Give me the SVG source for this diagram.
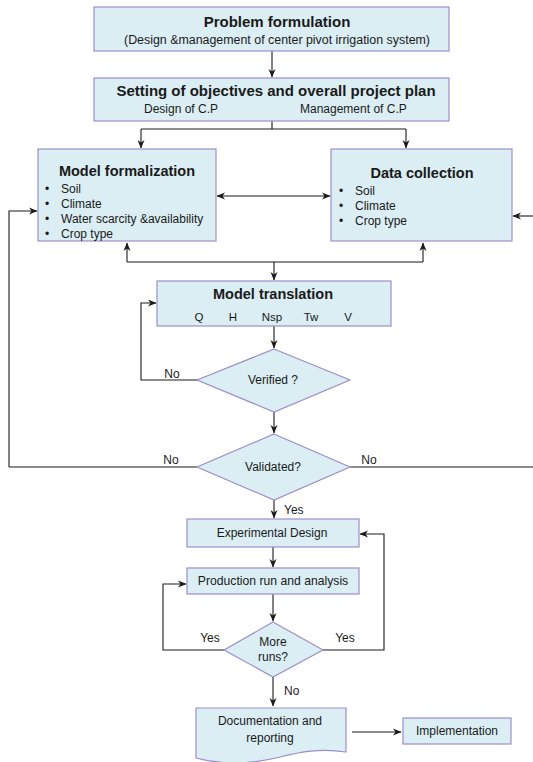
<svg xmlns="http://www.w3.org/2000/svg" width="533" height="762" viewBox="0 0 533 762">
<defs>
<marker id="ah" markerWidth="9" markerHeight="8" refX="8" refY="4" orient="auto" markerUnits="userSpaceOnUse">
<path d="M0,0.5 L8.5,4 L0,7.5 L2.5,4 Z" fill="#1a1a1a"/>
</marker>
<marker id="ahs" markerWidth="9" markerHeight="8" refX="0.5" refY="4" orient="auto" markerUnits="userSpaceOnUse">
<path d="M8.5,0.5 L0,4 L8.5,7.5 L6,4 Z" fill="#1a1a1a"/>
</marker>
<style>
.box{fill:#dbeef4;stroke:#9d8ec6;stroke-width:1.2}
.ln{fill:none;stroke:#1a1a1a;stroke-width:1.1}
.t{font-family:"Liberation Sans",Arial,sans-serif;fill:#1a1a1a}
.b{font-weight:bold}
.c{text-anchor:middle}
</style>
</defs>
<rect width="533" height="762" fill="#ffffff"/>

<g id="connectors">
<path class="ln" d="M272,51 V77" marker-end="url(#ah)"/>
<path class="ln" d="M272,121 V129 M141,129 H406"/>
<path class="ln" d="M141,129 V148" marker-end="url(#ah)"/>
<path class="ln" d="M406,129 V148" marker-end="url(#ah)"/>
<path class="ln" d="M217,196 H330" marker-start="url(#ahs)" marker-end="url(#ah)"/>
<path class="ln" d="M127,262 H423"/>
<path class="ln" d="M127,262 V243" marker-end="url(#ah)"/>
<path class="ln" d="M423,262 V243" marker-end="url(#ah)"/>
<path class="ln" d="M274,262 V280" marker-end="url(#ah)"/>
<path class="ln" d="M9,467 V211 H37" marker-end="url(#ah)"/>
<path class="ln" d="M533,216 H513" marker-end="url(#ah)"/>
<path class="ln" d="M197,380 H141 V303 H156" marker-end="url(#ah)"/>
<path class="ln" d="M274,326 V348" marker-end="url(#ah)"/>
<path class="ln" d="M274,412 V433" marker-end="url(#ah)"/>
<path class="ln" d="M197,467 H9"/>
<path class="ln" d="M350,467 H533"/>
<path class="ln" d="M274,500 V518" marker-end="url(#ah)"/>
<path class="ln" d="M273,547 V567" marker-end="url(#ah)"/>
<path class="ln" d="M273,594 V621" marker-end="url(#ah)"/>
<path class="ln" d="M224,650 H163 V584 H186" marker-end="url(#ah)"/>
<path class="ln" d="M323,650 H384 V534 H360" marker-end="url(#ah)"/>
<path class="ln" d="M273,677 V706" marker-end="url(#ah)"/>
<path class="ln" d="M352,732 H401" marker-end="url(#ah)"/>
<text class="t c" x="172" y="378" font-size="12">No</text>
<text class="t c" x="171" y="464" font-size="12">No</text>
<text class="t c" x="369" y="464" font-size="12">No</text>
<text class="t" x="284" y="514" font-size="12">Yes</text>
<text class="t c" x="210" y="642" font-size="12">Yes</text>
<text class="t c" x="345" y="642" font-size="12">Yes</text>
<text class="t" x="284" y="695" font-size="12">No</text>
</g>

<g id="problem">
<rect class="box" x="94" y="7" width="355" height="44"/>
<text class="t b c" x="277" y="27" font-size="15">Problem formulation</text>
<text class="t c" x="277" y="44" font-size="12" textLength="306" lengthAdjust="spacingAndGlyphs">(Design &amp;management of center pivot irrigation system)</text>
</g>

<g id="objectives">
<rect class="box" x="94" y="78" width="355" height="43"/>
<text class="t b c" x="276" y="96" font-size="15">Setting of objectives and overall project plan</text>
<text class="t" x="144" y="113" font-size="12">Design of C.P</text>
<text class="t" x="300" y="113" font-size="12">Management of C.P</text>
</g>

<g id="formalization">
<rect class="box" x="38" y="149" width="178" height="92"/>
<text class="t b c" x="127" y="176" font-size="14.5">Model formalization</text>
<g class="t" font-size="12">
<text x="45" y="193">•</text><text x="61" y="193">Soil</text>
<text x="45" y="208">•</text><text x="61" y="208">Climate</text>
<text x="45" y="223">•</text><text x="61" y="223">Water scarcity &amp;availability</text>
<text x="45" y="238">•</text><text x="61" y="238">Crop type</text>
</g>
</g>

<g id="datacollection">
<rect class="box" x="331" y="149" width="181" height="92"/>
<text class="t b c" x="422" y="178" font-size="14.5">Data collection</text>
<g class="t" font-size="12">
<text x="339" y="195">•</text><text x="355" y="195">Soil</text>
<text x="339" y="210">•</text><text x="355" y="210">Climate</text>
<text x="339" y="225">•</text><text x="355" y="225">Crop type</text>
</g>
</g>

<g id="translation">
<rect class="box" x="157" y="281" width="234" height="45"/>
<text class="t b c" x="273" y="299" font-size="14.5">Model translation</text>
<g class="t c" font-size="11.5">
<text x="199" y="321">Q</text>
<text x="233" y="321">H</text>
<text x="272" y="321">Nsp</text>
<text x="311" y="321">Tw</text>
<text x="348" y="321">V</text>
</g>
</g>

<g id="verified">
<polygon class="box" points="274,349 350,380 274,412 197,380"/>
<text class="t c" x="273" y="384" font-size="12">Verified ?</text>
</g>

<g id="validated">
<polygon class="box" points="274,434 350,467 274,500 197,467"/>
<text class="t c" x="273" y="471" font-size="12">Validated?</text>
</g>

<g id="experimental">
<rect class="box" x="187" y="519" width="172" height="28"/>
<text class="t c" x="272" y="537" font-size="12">Experimental Design</text>
</g>

<g id="production">
<rect class="box" x="187" y="568" width="172" height="26"/>
<text class="t c" x="273" y="585" font-size="12.2">Production run and analysis</text>
</g>

<g id="moreruns">
<polygon class="box" points="273,622 323,650 273,677 224,650"/>
<text class="t c" x="273" y="646" font-size="12">More</text>
<text class="t c" x="273" y="661" font-size="12">runs?</text>
</g>

<g id="documentation">
<path class="box" d="M196,708 H346 V752 C320,748 300,752 280,757 C252,764 222,765 196,758 Z"/>
<text class="t c" x="270" y="725" font-size="12">Documentation and</text>
<text class="t c" x="270" y="742" font-size="12">reporting</text>
</g>

<g id="implementation">
<rect class="box" x="403" y="718" width="108" height="26"/>
<text class="t c" x="457" y="735" font-size="12">Implementation</text>
</g>
</svg>
